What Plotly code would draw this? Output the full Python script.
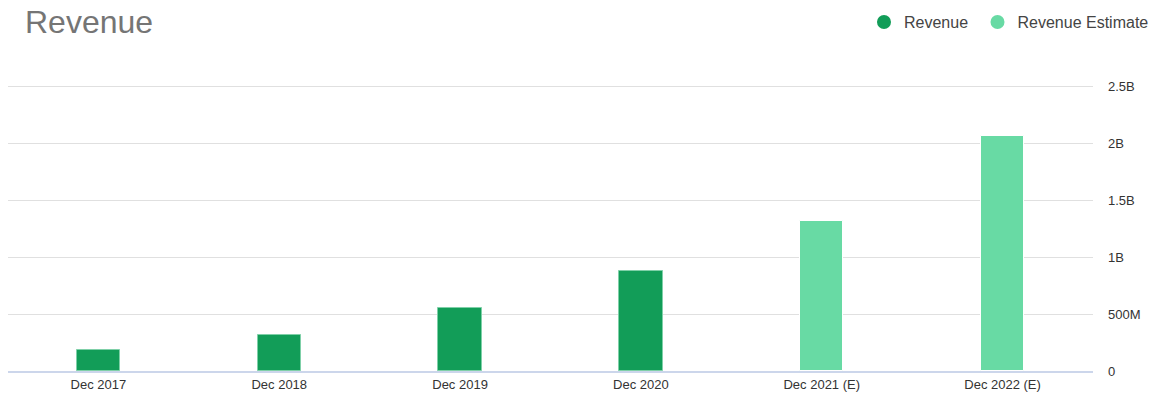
import plotly.graph_objects as go

# revenue per fiscal year, in dollars
periods = ["Dec 2017", "Dec 2018", "Dec 2019", "Dec 2020", "Dec 2021 (E)", "Dec 2022 (E)"]
revenue = [184e6, 316e6, 550e6, 880e6, None, None]
revenue_est = [None, None, None, None, 1318e6, 2064e6]

tick_vals = [0, 0.5e9, 1e9, 1.5e9, 2e9, 2.5e9]
tick_text = ["0", "500M", "1B", "1.5B", "2B", "2.5B"]

DARK = "#129d58"
LIGHT = "#68daa4"

fig = go.Figure()

# bars (legend handled by the circle markers below)
fig.add_trace(go.Bar(x=periods, y=revenue, marker=dict(color=DARK, line=dict(color="#7fd0a8", width=1)),
                     showlegend=False, width=0.24, offset=-0.12))
fig.add_trace(go.Bar(x=periods, y=revenue_est, marker=dict(color=LIGHT, line=dict(color="#ffffff", width=1)),
                     showlegend=False, width=0.24, offset=-0.12))

# legend entries with round symbols
fig.add_trace(go.Scatter(x=[None], y=[None], mode="markers", name="Revenue\u00a0",
                         marker=dict(color=DARK, size=14, symbol="circle")))
fig.add_trace(go.Scatter(x=[None], y=[None], mode="markers", name="Revenue Estimate",
                         marker=dict(color=LIGHT, size=14, symbol="circle")))

fig.update_layout(
    width=1156, height=418,
    margin=dict(l=8, r=63, t=85, b=47),
    paper_bgcolor="white", plot_bgcolor="white",
    font=dict(family="Liberation Sans, Arial, sans-serif", size=13, color="#333333"),
    title=dict(text="Revenue", x=0.0216, xanchor="left", y=0.947, yanchor="middle",
               font=dict(size=32, color="#757575")),
    barmode="overlay",
    bargap=0,
    legend=dict(orientation="h", xref="container", x=0.7474, xanchor="left",
                yref="container", y=0.947, yanchor="middle",
                font=dict(size=16, color="#444444"), itemwidth=30),
    xaxis=dict(showgrid=False, showline=True, linecolor="#ccd6eb", linewidth=2,
               ticks="", tickfont=dict(size=13, color="#333333")),
    # range a touch above 2.5B so the top gridline is still drawn
    yaxis=dict(side="right", range=[0, 2.51e9], tickvals=tick_vals, ticktext=tick_text,
               showgrid=True, gridcolor="#e0e0e0", gridwidth=1, zeroline=False,
               ticks="", ticklabelstandoff=14, tickfont=dict(size=13, color="#333333")),
)

# drop the browser's default 8px body margin so the figure fills the window
fig.write_html("out.html", config={"displayModeBar": False},
               post_script="document.body.style.margin='0';")
